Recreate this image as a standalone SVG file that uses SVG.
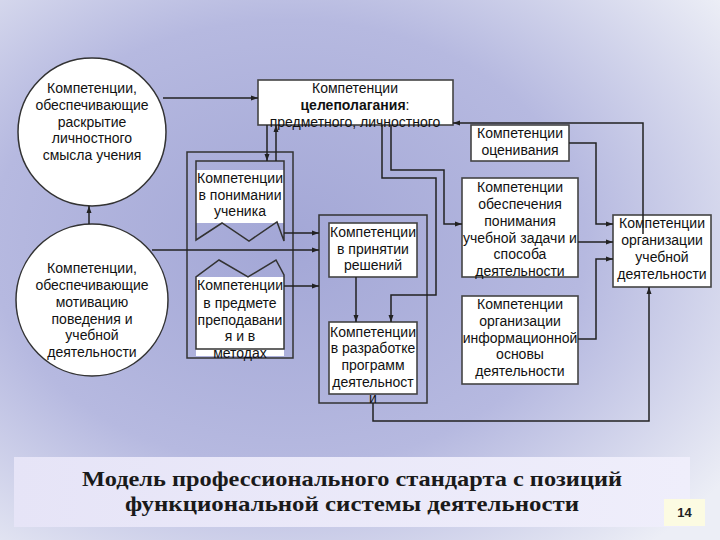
<svg xmlns="http://www.w3.org/2000/svg" width="720" height="540" viewBox="0 0 720 540">
<defs>
<radialGradient id="bg" cx="0.4" cy="0.45" r="0.75">
<stop offset="0" stop-color="#a3a7d6"/>
<stop offset="0.55" stop-color="#b6b9e0"/>
<stop offset="1" stop-color="#eceef6"/>
</radialGradient>
<linearGradient id="ban" x1="0" y1="0" x2="1" y2="0">
<stop offset="0" stop-color="#e6e4f7"/>
<stop offset="1" stop-color="#efeefb"/>
</linearGradient>
<marker id="ah" markerUnits="userSpaceOnUse" markerWidth="7" markerHeight="6" refX="7" refY="3" orient="auto">
<path d="M0,0.5 L7,3 L0,5.5 z" fill="#222"/>
</marker>
<style>
.t{font-family:"Liberation Sans",Arial,sans-serif;font-size:14px;fill:#111;text-anchor:middle}
.box{fill:#fff;stroke:#444;stroke-width:1.6}
.frame{fill:none;stroke:#333;stroke-width:1.5}
.sh{fill:none;stroke:#333;stroke-width:1.5}
.wbg{fill:#fff}
.c{fill:none;stroke:#222;stroke-width:1.5}
.a{marker-end:url(#ah)}
.title{font-family:"Liberation Serif","DejaVu Serif",serif;font-weight:bold;font-size:22px;fill:#1a1a1a;text-anchor:middle}
</style>
</defs>
<rect width="720" height="540" fill="url(#bg)"/>

<g id="circle-meaning">
<circle cx="92" cy="132" r="74" fill="#fff" stroke="#333" stroke-width="1.5"/>
<text class="t" x="92" y="93">Компетенции,</text>
<text class="t" x="92" y="110">обеспечивающие</text>
<text class="t" x="92" y="127">раскрытие</text>
<text class="t" x="92" y="143">личностного</text>
<text class="t" x="92" y="160">смысла учения</text>
</g>

<g id="circle-motivation">
<circle cx="92" cy="300" r="76" fill="#fff" stroke="#333" stroke-width="1.5"/>
<text class="t" x="92" y="273">Компетенции,</text>
<text class="t" x="92" y="290">обеспечивающие</text>
<text class="t" x="92" y="307">мотивацию</text>
<text class="t" x="92" y="324">поведения и</text>
<text class="t" x="92" y="340">учебной</text>
<text class="t" x="92" y="357">деятельности</text>
</g>

<g id="goal">
<rect class="box" x="258" y="80" width="195" height="45"/>
<text class="t" x="355" y="93">Компетенции</text>
<text class="t" x="355" y="110"><tspan font-weight="bold">целеполагания</tspan>:</text>
<text class="t" x="355" y="127">предметного, личностного</text>
</g>

<g id="frame-left">
<rect class="frame" x="187" y="152" width="106" height="206"/>
</g>

<g id="understanding">
<rect class="wbg" x="196" y="170" width="88" height="53"/>
<path class="sh" d="M196,161 L284,161 L284,241 L277,222 L249,241 L222,223 L196,240 Z"/>
<text class="t" x="240" y="183">Компетенции</text>
<text class="t" x="240" y="200">в понимании</text>
<text class="t" x="240" y="216">ученика</text>
</g>

<g id="subject">
<rect class="wbg" x="196" y="277" width="88" height="79"/>
<path class="sh" d="M196,349 L284,349 L284,275 L276,260 L248,277 L219,260 L196,277 Z"/>
<text class="t" x="240" y="290">Компетенции</text>
<text class="t" x="240" y="308">в предмете</text>
<text class="t" x="240" y="325">преподавани</text>
<text class="t" x="240" y="341">я и в</text>
<text class="t" x="240" y="358">методах</text>
</g>

<g id="frame-mid">
<rect class="frame" x="319" y="215" width="108" height="188"/>
</g>

<g id="decisions">
<rect class="box" x="329" y="223" width="88" height="54"/>
<text class="t" x="373" y="237">Компетенции</text>
<text class="t" x="373" y="254">в принятии</text>
<text class="t" x="373" y="270">решений</text>
</g>

<g id="programs">
<rect class="box" x="329" y="322" width="88" height="72"/>
<text class="t" x="373" y="337">Компетенции</text>
<text class="t" x="373" y="353">в разработке</text>
<text class="t" x="373" y="370">программ</text>
<text class="t" x="373" y="387">деятельност</text>
<text class="t" x="373" y="403">и</text>
</g>

<g id="assessment">
<rect class="box" x="471" y="125" width="98" height="36"/>
<text class="t" x="520" y="138">Компетенции</text>
<text class="t" x="520" y="155">оценивания</text>
</g>

<g id="task">
<rect class="box" x="462" y="178" width="116" height="99"/>
<text class="t" x="520" y="192">Компетенции</text>
<text class="t" x="520" y="209">обеспечения</text>
<text class="t" x="520" y="226">понимания</text>
<text class="t" x="520" y="243">учебной задачи и</text>
<text class="t" x="520" y="259">способа</text>
<text class="t" x="520" y="276">деятельности</text>
</g>

<g id="info">
<rect class="box" x="462" y="296" width="116" height="88"/>
<text class="t" x="520" y="309">Компетенции</text>
<text class="t" x="520" y="326">организации</text>
<text class="t" x="520" y="343">информационной</text>
<text class="t" x="520" y="359">основы</text>
<text class="t" x="520" y="376">деятельности</text>
</g>

<g id="organization">
<rect class="box" x="613" y="215" width="98" height="72"/>
<text class="t" x="662" y="228">Компетенции</text>
<text class="t" x="662" y="245">организации</text>
<text class="t" x="662" y="262">учебной</text>
<text class="t" x="662" y="279">деятельности</text>
</g>

<g id="connectors">
<path class="c a" d="M89,224 L89,206"/>
<path class="c a" d="M163,98 L258,98"/>
<path class="c a" d="M267,125 L267,161"/>
<path class="c a" d="M276,161 L276,125"/>
<path class="c a" d="M284,233 L319,233"/>
<path class="c a" d="M152,250 L319,250"/>
<path class="c a" d="M284,286 L319,286"/>
<path class="c a" d="M356,277 L356,322"/>
<path class="c a" d="M382,125 L382,178 L436,178 L436,295 L391,295 L391,322"/>
<path class="c a" d="M391,125 L391,170 L444,170 L444,224 L462,224"/>
<path class="c a" d="M569,143 L596,143 L596,224 L613,224"/>
<path class="c a" d="M578,242 L613,242"/>
<path class="c a" d="M578,339 L596,339 L596,259 L613,259"/>
<path class="c a" d="M373,403 L373,421 L649,421 L649,287"/>
<path class="c a" d="M643,234 L643,123 L453,123"/>
</g>

<g id="banner">
<rect x="14" y="457" width="676" height="70" fill="url(#ban)"/>
<text class="title" x="352" y="486" textLength="540" lengthAdjust="spacingAndGlyphs">Модель профессионального стандарта с позиций</text>
<text class="title" x="352" y="511" textLength="454" lengthAdjust="spacingAndGlyphs">функциональной системы деятельности</text>
</g>

<g id="page">
<rect x="664" y="499" width="41" height="27" fill="#fcfbe2"/>
<text x="684.5" y="517" font-family="Liberation Sans,Arial,sans-serif" font-size="13" font-weight="bold" fill="#222" text-anchor="middle">14</text>
</g>
</svg>
